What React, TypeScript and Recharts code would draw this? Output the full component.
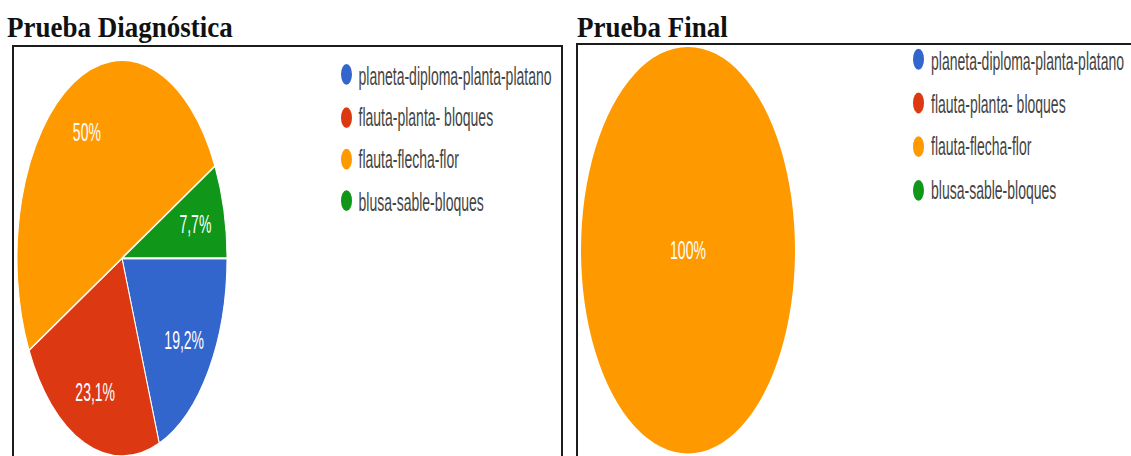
import React from "react";
import { Cell, Legend, Pie, PieChart } from "recharts";

const CATEGORIES = [
  "planeta-diploma-planta-platano",
  "flauta-planta- bloques",
  "flauta-flecha-flor",
  "blusa-sable-bloques",
];
// 26 students; counts give 19,2% / 23,1% / 50% / 7,7%
const DIAGNOSTIC_COUNTS = [5, 6, 13, 2];
const FINAL_COUNTS = [0, 0, 26, 0];
const TITLES = ["Prueba Diagnóstica", "Prueba Final"];

const COLORS = ["#3366CC", "#DC3912", "#FF9900", "#109618"];
const RADIAN = Math.PI / 180;
const SANS = "'Liberation Sans', Arial, sans-serif";

const formatPct = (p: number) =>
  `${Number((p * 100).toFixed(1)).toString().replace(".", ",")}%`;

function renderLabel(props: any) {
  const { cx, cy, midAngle, outerRadius, percent } = props;
  if (!percent) return null;
  const r = percent > 0.999 ? 0 : outerRadius * 0.72;
  const x = cx + r * Math.cos(-midAngle * RADIAN);
  const y = cy + r * Math.sin(-midAngle * RADIAN);
  return (
    <text
      x={x}
      y={y}
      fill="#fff"
      textAnchor="middle"
      dominantBaseline="central"
      fontFamily={SANS}
      fontSize={14}
    >
      {formatPct(percent)}
    </text>
  );
}

function LegendList({ payload, rowHeight }: { payload?: any[]; rowHeight: number }) {
  // keep the data order, not the alphabetical one
  const items = [...(payload ?? [])].sort(
    (a, b) => CATEGORIES.indexOf(a.value) - CATEGORIES.indexOf(b.value)
  );
  return (
    <ul style={{ margin: 0, padding: 0, listStyle: "none" }}>
      {items.map((item) => (
        <li
          key={item.value}
          style={{ display: "flex", alignItems: "center", height: rowHeight }}
        >
          <span
            style={{
              width: 11,
              height: 11,
              borderRadius: "50%",
              background: item.color ?? COLORS[CATEGORIES.indexOf(item.value)],
              marginRight: 7,
              flex: "none",
            }}
          />
          <span
            style={{
              fontFamily: SANS,
              fontSize: 14,
              color: "#444",
              whiteSpace: "nowrap",
            }}
          >
            {item.value}
          </span>
        </li>
      ))}
    </ul>
  );
}

type PanelProps = {
  title: string;
  titleLeft: number;
  counts: number[];
  boxLeft: number;
  boxTop: number;
  boxWidth: number;
  chartLeft: number;
  chartTop: number;
  scale: number;
  cx: number;
  cy: number;
  radius: number;
  legendLeft: number;
  legendTop: number;
  rowHeight: number;
  stroke: string;
};

function Panel(p: PanelProps) {
  const rows = CATEGORIES.map((name, i) => ({ name, value: p.counts[i] }));
  return (
    <>
      <div
        style={{
          position: "absolute",
          left: p.titleLeft,
          top: 14.5,
          fontFamily: "'Liberation Serif', 'Times New Roman', serif",
          fontWeight: "bold",
          fontSize: 27,
          lineHeight: 1,
          color: "#111",
          whiteSpace: "nowrap",
          transform: "scaleY(1.12)",
          transformOrigin: "0 23px",
        }}
      >
        {p.title}
      </div>
      <div
        style={{
          position: "absolute",
          left: p.boxLeft,
          top: p.boxTop,
          width: p.boxWidth,
          height: 460,
          border: "2px solid #1c1c1c",
          boxSizing: "border-box",
        }}
      />
      <div
        style={{
          position: "absolute",
          left: p.chartLeft,
          top: p.chartTop,
          transform: `scaleY(${p.scale})`,
          transformOrigin: "0 0",
        }}
      >
        <PieChart
          width={546}
          height={220}
          margin={{ top: 0, right: 0, bottom: 0, left: 0 }}
        >
          <Pie
            data={rows}
            dataKey="value"
            nameKey="name"
            cx={p.cx}
            cy={p.cy}
            outerRadius={p.radius}
            startAngle={0}
            endAngle={-360}
            stroke={p.stroke}
            strokeWidth={1}
            labelLine={false}
            label={renderLabel}
            isAnimationActive={false}
          >
            {rows.map((row, i) => (
              <Cell key={row.name} fill={COLORS[i]} />
            ))}
          </Pie>
          <Legend
            layout="vertical"
            align="right"
            verticalAlign="top"
            wrapperStyle={{ left: p.legendLeft, top: p.legendTop, width: 240 }}
            content={(props: any) => (
              <LegendList payload={props.payload} rowHeight={p.rowHeight} />
            )}
          />
        </PieChart>
      </div>
    </>
  );
}

export default function App() {
  return (
    <div
      style={{
        position: "fixed",
        left: 0,
        top: 0,
        width: 1131,
        height: 456,
        overflow: "hidden",
        background: "#fff",
      }}
    >
      <Panel
        title={TITLES[0]}
        titleLeft={7}
        counts={DIAGNOSTIC_COUNTS}
        boxLeft={12}
        boxTop={45}
        boxWidth={551}
        chartLeft={14}
        chartTop={47}
        scale={1.886}
        cx={108}
        cy={112}
        radius={105}
        legendLeft={326.5}
        legendTop={3.6}
        rowHeight={22.3}
        stroke="#fff"
      />
      <Panel
        title={TITLES[1]}
        titleLeft={577}
        counts={FINAL_COUNTS}
        boxLeft={576}
        boxTop={43}
        boxWidth={580}
        chartLeft={578}
        chartTop={45}
        scale={1.9}
        cx={110}
        cy={108}
        radius={107}
        legendLeft={335}
        legendTop={-3.5}
        rowHeight={22.8}
        stroke="none"
      />
    </div>
  );
}
